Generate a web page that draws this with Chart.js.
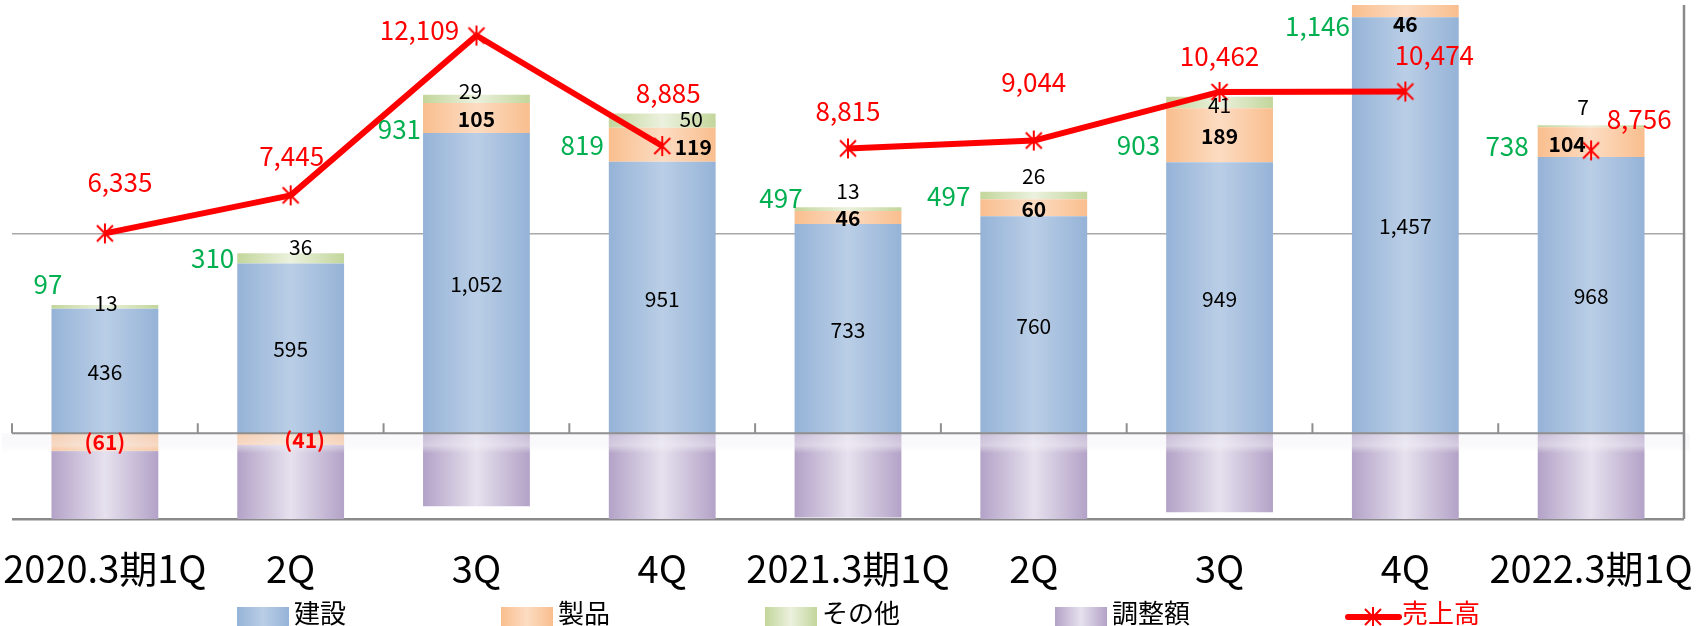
<!DOCTYPE html>
<html>
<head>
<meta charset="utf-8">
<script src="https://cdn.jsdelivr.net/npm/chart.js@4.4.1/dist/chart.umd.min.js"></script>
<style>
  html, body { margin: 0; padding: 0; background: #fff; }
  #chart { display: block; }
</style>
</head>
<body>
<canvas id="chart" width="1701" height="626"></canvas>
<script>
// quarterly segment profit (bars, left axis) and sales (line, right axis)
const categories = ['2020.3期1Q', '2Q', '3Q', '4Q', '2021.3期1Q', '2Q', '3Q', '4Q', '2022.3期1Q'];
const fiscalYear = ['2020.3', '2020.3', '2020.3', '2020.3', '2021.3', '2021.3', '2021.3', '2021.3', '2022.3'];
const construction = [436, 595, 1052, 951, 733, 760, 949, 1457, 968];
const products = [-61, -41, 105, 119, 46, 60, 189, 46, 104];
const others = [13, 36, 29, 50, 13, 26, 41, null, 7];
const adjustments = [-291, -280, -255, -301, -295, -349, -276, -357, -341];
const segmentTotals = [97, 310, 931, 819, 497, 497, 903, 1146, 738];
const sales = [6335, 7445, 12109, 8885, 8815, 9044, 10462, 10474, 8756];
const gridValues = [-300, 700];

// hand placed label nudges (px), like the moved labels of the original
const orangeDx = [0, 14, 0, 31, 0, 0, 0, 0, -24];
const orangeDy = [0, 1, 1, 2, 1, 1, 1, 13, 2];
const greenDx = [1, 10, -6, 29, 0, 0, 0, 0, -8];
const greenDy = [-4, -11, -8, -2, -18, -19, 2, 0, -19];
const totalDx = [11, -3, -2, -5, 8, -10, -6, -2, -9];
const totalDy = [-21, 5, 34, 32, -9, 4, 48, 21, 21];
const salesDx = [15, 1, -57, 6, 0, 0, 0, 29, 48];
const salesDy = [-51, -39, -5, -53, -37, -58, -36, -36, -31];

const FONT = '"Noto Sans CJK JP", "Noto Sans", sans-serif';
const BAR_PCT = 0.575;
const RED = '#ff0000';
const GREEN_TXT = '#00b050';
const COLORS = {
  blue: ['#95b3d7', '#bacee6'],
  orange: ['#f9be8e', '#fcdcc2'],
  green: ['#c3d69b', '#ebf1de'],
  purple: ['#b3a2c7', '#e6e1ee']
};

Chart.defaults.font.family = FONT;

function cylinder(pair) {
  return (c) => {
    const chart = c.chart;
    const xs = chart.scales.x;
    if (!chart.chartArea || !xs || c.dataIndex === undefined) return pair[0];
    const cx = xs.getPixelForValue(c.dataIndex);
    const half = xs.width / categories.length * BAR_PCT / 2;
    if (!isFinite(cx) || !(half > 0)) return pair[0];
    const g = chart.ctx.createLinearGradient(cx - half, 0, cx + half, 0);
    g.addColorStop(0, pair[0]);
    g.addColorStop(0.5, pair[1]);
    g.addColorStop(1, pair[0]);
    return g;
  };
}

// asterisk marker like excel's star
function starMarker(size, lw) {
  const cv = document.createElement('canvas');
  cv.width = size; cv.height = size;
  const g = cv.getContext('2d');
  g.strokeStyle = RED;
  g.lineWidth = lw;
  const m = size / 2, r = size / 2 - 1;
  g.beginPath();
  g.moveTo(m, m - r); g.lineTo(m, m + r);
  g.moveTo(m - r * 0.8, m - r * 0.8); g.lineTo(m + r * 0.8, m + r * 0.8);
  g.moveTo(m + r * 0.8, m - r * 0.8); g.lineTo(m - r * 0.8, m + r * 0.8);
  g.stroke();
  return cv;
}
const star = starMarker(22, 2);

const fmt = (v) => v < 0 ? '(' + Math.abs(v).toLocaleString('en-US') + ')' : v.toLocaleString('en-US');

const axisOverlay = {
  id: 'axisOverlay',
  afterDatasetsDraw(chart) {
    const {ctx, chartArea: a, scales: {x, y}} = chart;
    const zeroY = y.getPixelForValue(0);
    ctx.save();
    // soft haze under the category axis
    const hz = ctx.createLinearGradient(0, zeroY, 0, zeroY + 20);
    hz.addColorStop(0, 'rgba(238,236,242,0.35)');
    hz.addColorStop(0.6, 'rgba(244,242,248,0.5)');
    hz.addColorStop(1, 'rgba(244,244,244,0)');
    ctx.fillStyle = hz;
    ctx.fillRect(a.left - 10, zeroY, a.right - a.left + 16, 20);
    // category axis at zero with upward ticks
    ctx.strokeStyle = '#8f8f8f';
    ctx.lineWidth = 2;
    ctx.beginPath();
    ctx.moveTo(a.left, zeroY); ctx.lineTo(a.right, zeroY);
    const catW = x.width / categories.length;
    for (let i = 0; i <= categories.length; i++) {
      const bx = x.left + i * catW;
      ctx.moveTo(bx, zeroY); ctx.lineTo(bx, zeroY - 10);
    }
    ctx.stroke();
    // right border
    ctx.strokeStyle = '#8a8a8a';
    ctx.lineWidth = 2.5;
    ctx.beginPath();
    ctx.moveTo(a.right, a.top); ctx.lineTo(a.right, a.bottom);
    ctx.stroke();
    ctx.restore();
  }
};

const valueLabels = {
  id: 'valueLabels',
  afterDatasetsDraw(chart) {
    const {ctx, chartArea: a} = chart;
    const metaOf = (i) => chart.getDatasetMeta(i).data;
    const visible = (el) => Math.min(el.y, el.base) < a.bottom && Math.max(el.y, el.base) > a.top;
    const mid = (el) => {
      const t = Math.max(Math.min(el.y, el.base), a.top);
      const b = Math.min(Math.max(el.y, el.base), a.bottom);
      return (t + b) / 2;
    };
    ctx.save();
    ctx.textBaseline = 'middle';
    ctx.textAlign = 'center';

    // construction
    ctx.font = '21px ' + FONT;
    ctx.fillStyle = '#000';
    metaOf(0).forEach((el, i) => {
      ctx.fillText(fmt(construction[i]), el.x, mid(el) + 1);
    });
    // products
    ctx.font = 'bold 21px ' + FONT;
    metaOf(1).forEach((el, i) => {
      if (!visible(el)) return;
      ctx.fillStyle = products[i] < 0 ? RED : '#000';
      ctx.fillText(fmt(products[i]), el.x + orangeDx[i], mid(el) + orangeDy[i]);
    });
    // others
    ctx.font = '21px ' + FONT;
    ctx.fillStyle = '#000';
    metaOf(2).forEach((el, i) => {
      if (others[i] === null || !visible(el)) return;
      ctx.fillText(fmt(others[i]), el.x + greenDx[i], mid(el) + greenDy[i]);
    });
    // segment totals, left of each stack
    ctx.font = '26px ' + FONT;
    ctx.fillStyle = GREEN_TXT;
    ctx.textAlign = 'right';
    metaOf(0).forEach((el, i) => {
      let top = el.y;
      [1, 2].forEach((d) => {
        const e = metaOf(d)[i];
        const v = chart.data.datasets[d].data[i];
        if (v > 0) top = Math.min(top, e.y);
      });
      top = Math.max(top, a.top);
      ctx.fillText(fmt(segmentTotals[i]), el.x - el.width / 2 + totalDx[i], top + totalDy[i]);
    });
    // sales
    ctx.textAlign = 'center';
    ctx.fillStyle = RED;
    metaOf(4).forEach((pt, i) => {
      ctx.fillText(fmt(sales[i]), pt.x + salesDx[i], pt.y + salesDy[i]);
    });
    ctx.restore();
  }
};

const bottomLegend = {
  id: 'bottomLegend',
  afterDraw(chart) {
    const {ctx} = chart;
    const fills = [COLORS.blue, COLORS.orange, COLORS.green, COLORS.purple];
    ctx.save();
    ctx.font = '26px ' + FONT;
    ctx.textBaseline = 'middle';
    ctx.textAlign = 'left';
    let x = 237;
    const boxW = 52, textY = 613, boxTop = 607, boxH = 22;
    chart.data.datasets.forEach((ds, i) => {
      if (ds.type === 'line') {
        ctx.strokeStyle = RED;
        ctx.lineWidth = 6;
        ctx.lineCap = 'round';
        ctx.beginPath();
        ctx.moveTo(x + 3, 617); ctx.lineTo(x + boxW + 2, 617);
        ctx.stroke();
        ctx.drawImage(star, x + boxW / 2 + 2 - star.width / 2, 617 - star.height / 2);
        ctx.fillStyle = RED;
      } else {
        const pair = fills[i];
        const g = ctx.createLinearGradient(x, 0, x + boxW, 0);
        g.addColorStop(0, pair[0]); g.addColorStop(0.5, pair[1]); g.addColorStop(1, pair[0]);
        ctx.fillStyle = g;
        ctx.fillRect(x, boxTop, boxW, boxH);
        ctx.fillStyle = '#000';
      }
      ctx.fillText(ds.label, x + boxW + 5, textY);
      x += boxW + 5 + ctx.measureText(ds.label).width + 155;
    });
    ctx.restore();
  }
};

const barDefaults = {
  type: 'bar',
  yAxisID: 'y',
  order: 1,
  barPercentage: BAR_PCT,
  categoryPercentage: 1,
  borderWidth: 0
};

new Chart(document.getElementById('chart'), {
  data: {
    labels: categories,
    datasets: [
      Object.assign({label: '建設', data: construction, backgroundColor: cylinder(COLORS.blue)}, barDefaults),
      Object.assign({label: '製品', data: products, backgroundColor: cylinder(COLORS.orange)}, barDefaults),
      Object.assign({label: 'その他', data: others, backgroundColor: cylinder(COLORS.green)}, barDefaults),
      Object.assign({label: '調整額', data: adjustments, backgroundColor: cylinder(COLORS.purple)}, barDefaults),
      {
        type: 'line',
        label: '売上高',
        data: sales,
        yAxisID: 'y2',
        order: 0,
        borderColor: RED,
        borderWidth: 6,
        borderJoinStyle: 'round',
        tension: 0,
        pointStyle: star,
        pointRadius: 10,
        clip: false,
        // the line is only joined within one fiscal year
        segment: {
          borderColor: (c) => fiscalYear[c.p0DataIndex] === fiscalYear[c.p1DataIndex] ? RED : 'rgba(0,0,0,0)'
        }
      }
    ]
  },
  options: {
    responsive: false,
    animation: false,
    devicePixelRatio: 1,
    layout: { autoPadding: false, padding: { left: 12, right: 17, top: 5, bottom: 32 } },
    plugins: {
      legend: { display: false },
      tooltip: { enabled: false }
    },
    scales: {
      x: {
        stacked: true,
        offset: true,
        grid: { display: false, drawTicks: false },
        border: { display: false },
        ticks: {
          autoSkip: false, maxRotation: 0, minRotation: 0,
          padding: 27, color: '#000',
          font: { size: 38, family: FONT }
        },
        afterFit: (s) => { s.height = 75; s.paddingLeft = 0; s.paddingRight = 0; }
      },
      y: {
        stacked: true,
        min: -300,
        max: 1500,
        afterBuildTicks: (s) => { s.ticks = gridValues.map((v) => ({ value: v })); },
        afterFit: (s) => { s.width = 0; },
        ticks: { display: false },
        border: { display: false },
        grid: {
          drawTicks: false,
          color: (c) => c.tick && c.tick.value === -300 ? '#8a8a8a' : '#a8a8a8',
          lineWidth: (c) => c.tick && c.tick.value === -300 ? 2.5 : 1.5
        }
      },
      y2: {
        display: false,
        min: -2000,
        max: 13000
      }
    }
  },
  plugins: [axisOverlay, valueLabels, bottomLegend]
});
</script>
</body>
</html>
